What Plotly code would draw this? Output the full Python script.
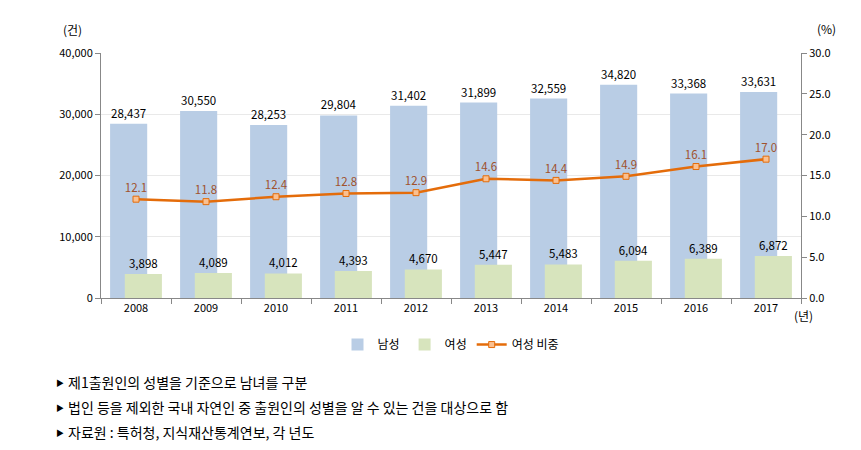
import plotly.graph_objects as go

years = ["2008", "2009", "2010", "2011", "2012", "2013", "2014", "2015", "2016", "2017"]
male = [28437, 30550, 28253, 29804, 31402, 31899, 32559, 34820, 33368, 33631]
female = [3898, 4089, 4012, 4393, 4670, 5447, 5483, 6094, 6389, 6872]
female_share = [12.1, 11.8, 12.4, 12.8, 12.9, 14.6, 14.4, 14.9, 16.1, 17.0]
left_ticks = [0, 10000, 20000, 30000, 40000]
right_ticks = [0, 5, 10, 15, 20, 25, 30]
notes = [
    "제1출원인의 성별을 기준으로 남녀를 구분",
    "법인 등을 제외한 국내 자연인 중 출원인의 성별을 알 수 있는 건을 대상으로 함",
    "자료원 : 특허청, 지식재산통계연보, 각 년도",
]

FONT = "Noto Sans CJK KR"
fig = go.Figure()

fig.add_trace(go.Bar(
    x=years, y=male, name="남성", marker=dict(color="#B9CDE5", line=dict(width=0)),
    width=0.53, offset=-0.37,
    texttemplate="%{y:,}", textposition="outside", cliponaxis=False,
    textfont=dict(size=11.5, color="#000000", family=FONT),
))
fig.add_trace(go.Bar(
    x=years, y=female, name="여성", marker=dict(color="#D7E4BD", line=dict(width=0)),
    width=0.53, offset=-0.16,
    texttemplate="%{y:,}", textposition="outside", cliponaxis=False,
    textfont=dict(size=11.5, color="#000000", family=FONT),
))
fig.add_trace(go.Scatter(
    x=years, y=female_share, name="여성 비중", yaxis="y2",
    mode="lines+markers+text",
    line=dict(color="#E46C0A", width=2.5),
    marker=dict(symbol="square", size=6, color="#FAC090", line=dict(color="#E46C0A", width=1)),
    text=[f"{v:.1f}" for v in female_share], textposition="top center",
    textfont=dict(size=11.5, color="#A0522D", family=FONT),
))

# page body has an 8px default margin, so offset the margins accordingly
fig.update_layout(
    width=861, height=450,
    margin=dict(l=93, r=68, t=45, b=160),
    paper_bgcolor="white", plot_bgcolor="white",
    barmode="overlay",
    font=dict(family=FONT, size=11, color="#000000"),
    xaxis=dict(
        type="category", range=[-0.5, 9.5], tickson="boundaries",
        ticks="outside", ticklen=5, tickcolor="#888888",
        showline=True, linecolor="#888888", linewidth=1, showgrid=False,
        tickfont=dict(size=11, color="#000000"),
    ),
    yaxis=dict(
        range=[0, 40000], tickvals=left_ticks, tickformat=",",
        ticks="outside", ticklen=5, tickcolor="#888888",
        showline=True, linecolor="#888888", linewidth=1,
        showgrid=True, gridcolor="#E9E9E9", zeroline=False,
        tickfont=dict(size=11, color="#000000"),
    ),
    yaxis2=dict(
        overlaying="y", side="right", range=[0, 30], tickvals=right_ticks,
        tickformat=".1f", ticks="outside", ticklen=5, tickcolor="#888888",
        showline=True, linecolor="#888888", linewidth=1,
        showgrid=False, zeroline=False,
        tickfont=dict(size=11, color="#000000"),
    ),
    legend=dict(
        orientation="h", x=0.5, xanchor="center", y=-0.19, yanchor="middle",
        font=dict(size=12, color="#000000"), traceorder="normal",
        itemwidth=30,
    ),
    showlegend=True,
)

px = lambda X: (X - 101) / 700.0
py = lambda Y: (298 - Y) / 245.0

fig.add_annotation(x=px(72), y=py(30), xref="paper", yref="paper", text="(건)",
                   showarrow=False, font=dict(size=12), xanchor="center", yanchor="middle")
fig.add_annotation(x=px(826), y=py(28), xref="paper", yref="paper", text="(%)",
                   showarrow=False, font=dict(size=12), xanchor="center", yanchor="middle")
fig.add_annotation(x=px(803), y=py(315), xref="paper", yref="paper", text="(년)",
                   showarrow=False, font=dict(size=12), xanchor="center", yanchor="middle")

for i, t in enumerate(notes):
    yy = 382 + 25 * i
    fig.add_annotation(x=px(54), y=py(yy), xref="paper", yref="paper", text="▶",
                       showarrow=False, font=dict(size=8, color="#000000"),
                       xanchor="left", yanchor="middle")
    fig.add_annotation(x=px(66), y=py(yy), xref="paper", yref="paper", text=t,
                       showarrow=False, font=dict(size=14, color="#000000"),
                       xanchor="left", yanchor="middle")

fig.write_html("out.html")
